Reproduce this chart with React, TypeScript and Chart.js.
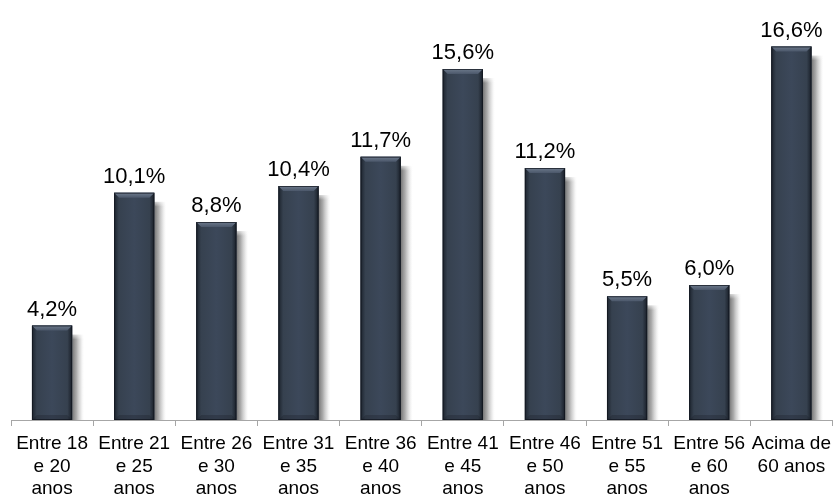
import React, { useEffect, useRef } from "react";
import { Chart, registerables } from "chart.js";

Chart.register(...registerables);

const categories: string[][] = [
  ["Entre 18", "e 20", "anos"],
  ["Entre 21", "e 25", "anos"],
  ["Entre 26", "e 30", "anos"],
  ["Entre 31", "e 35", "anos"],
  ["Entre 36", "e 40", "anos"],
  ["Entre 41", "e 45", "anos"],
  ["Entre 46", "e 50", "anos"],
  ["Entre 51", "e 55", "anos"],
  ["Entre 56", "e 60", "anos"],
  ["Acima de", "60 anos"],
];
const values: number[] = [4.2, 10.1, 8.8, 10.4, 11.7, 15.6, 11.2, 5.5, 6.0, 16.6];

const fmt = (v: number) => v.toFixed(1).replace(".", ",") + "%";

const barDeco = {
  id: "barDeco",
  beforeDatasetsDraw(chart: any) {
    const ctx = chart.ctx;
    const meta = chart.getDatasetMeta(0);
    ctx.save();
    meta.data.forEach((bar: any) => {
      const { x, y, base, width } = bar.getProps(["x", "y", "base", "width"], true);
      const right = x + width / 2;
      const sw = 12;
      const g = ctx.createLinearGradient(right, 0, right + sw, 0);
      g.addColorStop(0, "rgba(110,110,110,0.95)");
      g.addColorStop(0.35, "rgba(150,150,150,0.8)");
      g.addColorStop(0.7, "rgba(200,200,200,0.5)");
      g.addColorStop(1, "rgba(240,240,240,0)");
      ctx.fillStyle = g;
      ctx.fillRect(right, y + 9, sw, base - y - 9);
      // soft top fade of shadow
      const tg = ctx.createLinearGradient(0, y + 6, 0, y + 14);
      tg.addColorStop(0, "rgba(255,255,255,1)");
      tg.addColorStop(1, "rgba(255,255,255,0)");
      ctx.fillStyle = tg;
      ctx.fillRect(right, y + 6, sw, 8);
    });
    ctx.restore();
  },
  afterDatasetsDraw(chart: any) {
    const ctx = chart.ctx;
    const meta = chart.getDatasetMeta(0);
    ctx.save();
    meta.data.forEach((bar: any, i: number) => {
      const { x, y, base, width } = bar.getProps(["x", "y", "base", "width"], true);
      const l = x - width / 2;
      const r = x + width / 2;
      const b = 5;
      // body gradient
      const g = ctx.createLinearGradient(l, 0, r, 0);
      g.addColorStop(0, "#1c232d");
      g.addColorStop(0.12, "#36414f");
      g.addColorStop(0.5, "#3c485a");
      g.addColorStop(0.88, "#36414f");
      g.addColorStop(1, "#181e27");
      ctx.fillStyle = g;
      ctx.fillRect(l, y, width, base - y);
      // top bevel
      const tg = ctx.createLinearGradient(0, y, 0, y + b);
      tg.addColorStop(0, "#6d7a8c");
      tg.addColorStop(1, "#4b576a");
      ctx.fillStyle = tg;
      ctx.beginPath();
      ctx.moveTo(l, y);
      ctx.lineTo(r, y);
      ctx.lineTo(r - b, y + b);
      ctx.lineTo(l + b, y + b);
      ctx.closePath();
      ctx.fill();
      // bottom bevel (subtle)
      ctx.fillStyle = "rgba(25,30,40,0.3)";
      ctx.beginPath();
      ctx.moveTo(l, base);
      ctx.lineTo(r, base);
      ctx.lineTo(r - b, base - b);
      ctx.lineTo(l + b, base - b);
      ctx.closePath();
      ctx.fill();
      // outline
      ctx.strokeStyle = "rgba(15,20,28,0.7)";
      ctx.lineWidth = 1;
      ctx.strokeRect(l + 0.5, y + 0.5, width - 1, base - y - 1);
      // label
      ctx.fillStyle = "#000";
      ctx.font = "22px 'Liberation Sans', Arial, sans-serif";
      ctx.textAlign = "center";
      ctx.textBaseline = "alphabetic";
      ctx.fillText(fmt(values[i]), x, y - 10);
    });
    ctx.restore();
  },
};

export default function App() {
  const ref = useRef<HTMLCanvasElement>(null);
  useEffect(() => {
    if (!ref.current) return;
    const chart = new Chart(ref.current, {
      type: "bar",
      data: {
        labels: categories,
        datasets: [
          {
            data: values,
            backgroundColor: "#36414f",
            categoryPercentage: 1,
            barPercentage: 0.49,
          },
        ],
      },
      options: {
        animation: false,
        responsive: false,
        layout: { padding: { top: 15, left: 11, right: 0, bottom: 0 } },
        plugins: { legend: { display: false }, tooltip: { enabled: false } },
        scales: {
          y: { display: false, min: 0, max: 18 },
          x: {
            afterFit: (s: any) => {
              s.height = 76;
            },
            border: { display: true, color: "#a6a6a6", width: 1 },
            grid: {
              display: true,
              offset: true,
              drawOnChartArea: false,
              drawTicks: true,
              tickLength: 6,
              color: "#a6a6a6",
            },
            ticks: {
              color: "#000",
              padding: 7,
              maxRotation: 0,
              autoSkip: false,
              font: { family: "'Liberation Sans', Arial, sans-serif", size: 19, lineHeight: 1.17 },
            },
          },
        },
      },
      plugins: [barDeco],
    });
    return () => chart.destroy();
  }, []);
  return (
    <div style={{ position: "absolute", left: 0, top: 0, width: 838, height: 496, background: "#fff" }}>
      <canvas ref={ref} width={838} height={496} style={{ width: 838, height: 496 }} />
    </div>
  );
}
